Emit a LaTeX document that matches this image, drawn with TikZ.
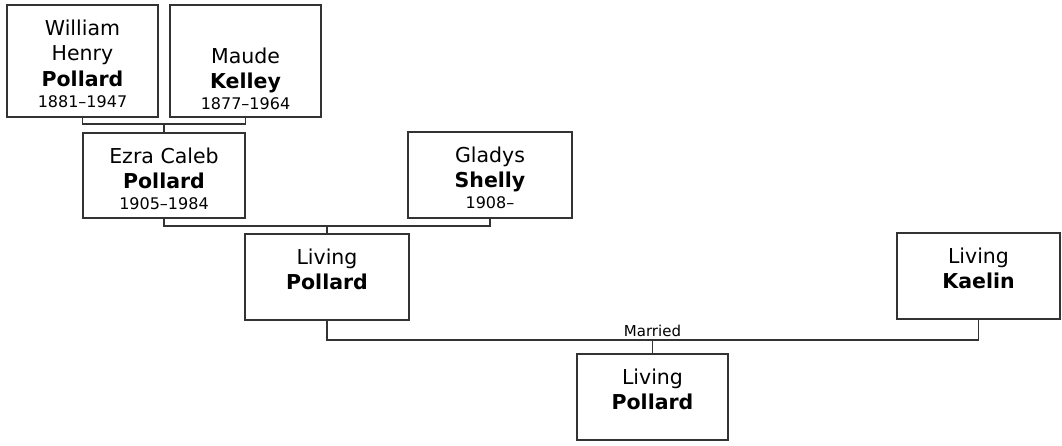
\documentclass[tikz,border=0pt]{standalone}
\usepackage{fontspec}
\setmainfont{DejaVu Sans}
\newcommand{\nmfont}{\fontsize{20.5}{25.7}\selectfont}
\newcommand{\yrfont}{\fontsize{16}{21}\selectfont}
\newcommand{\pbox}[4]{\begin{minipage}[c][#2pt][t]{#1pt}\centering\vspace*{#3pt}#4\end{minipage}}
\begin{document}
\begin{tikzpicture}[x=1pt,y=-1pt,
  person/.style={draw=black!80,line width=1.3pt,inner sep=0pt,fill=white},
  link/.style={draw=black!80,line width=1.3pt}]
\useasboundingbox (0,0) rectangle (1062,445);
\fill[white] (0,0) rectangle (1062,445);

\node[person] (will) at (82.5,61) {\pbox{151}{112}{14.5}{{\nmfont William\\Henry\\\textbf{Pollard}\par}{\yrfont 1881–1947\par}}};
\node[person] (maude) at (245.5,61) {\pbox{151}{112}{14.5}{{\nmfont\strut\\Maude\\\textbf{Kelley}\par}{\yrfont 1877–1964\par}}};
\node[person] (ezra) at (164,175.5) {\pbox{162}{85}{14.5}{{\nmfont Ezra Caleb\\\textbf{Pollard}\par}{\yrfont 1905–1984\par}}};
\node[person] (gladys) at (490,175) {\pbox{164}{86}{14.5}{{\nmfont Gladys\\\textbf{Shelly}\par}{\yrfont 1908–\par}}};
\node[person] (lp) at (327,277) {\pbox{164}{86}{14.5}{{\nmfont Living\\\textbf{Pollard}\par}}};
\node[person] (kaelin) at (978.5,276) {\pbox{163}{86}{14.5}{{\nmfont Living\\\textbf{Kaelin}\par}}};
\node[person] (child) at (652.5,397) {\pbox{151}{86}{14.5}{{\nmfont Living\\\textbf{Pollard}\par}}};

\coordinate (m1) at (164,124);
\coordinate (m2) at (327,226);
\coordinate (m3) at (652.5,340);

\draw[link] (will.south) |- (m1) -| (maude.south);
\draw[link] (m1) -- (ezra.north);
\draw[link] (ezra.south) |- (m2) -| (gladys.south);
\draw[link] (m2) -- (lp.north);
\draw[link] (lp.south) |- (m3) -| (kaelin.south);
\draw[link] (m3) -- (child.north);
\node[anchor=base,inner sep=0pt,font=\fontsize{15}{18}\selectfont] (married) at (652.5,336) {Married};
\end{tikzpicture}
\end{document}
